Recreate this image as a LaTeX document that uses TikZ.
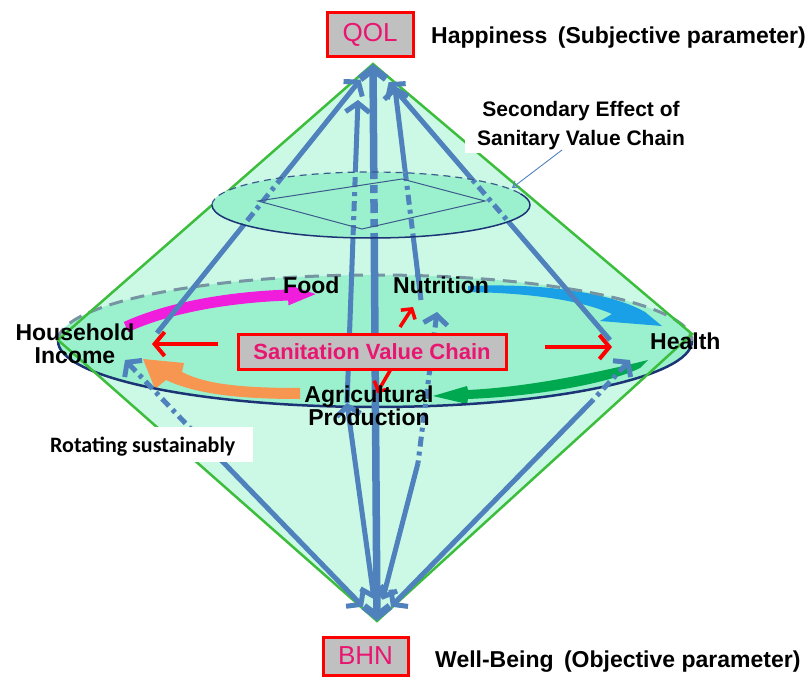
\documentclass[tikz,border=0pt]{standalone}
\usepackage{fontspec}
\setmainfont{Liberation Sans}
\newfontfamily\carlito{Carlito}
\usetikzlibrary{arrows.meta}
\definecolor{qblue}{RGB}{79,129,189}
\definecolor{conefill}{RGB}{204,249,230}
\definecolor{ellfill}{RGB}{155,241,206}
\definecolor{diagreen}{RGB}{60,190,60}
\definecolor{navyline}{RGB}{28,52,118}
\definecolor{dashgray}{RGB}{118,148,162}
\definecolor{pinktext}{RGB}{232,22,112}
\definecolor{boxgray}{RGB}{192,192,192}
\definecolor{arrmag}{RGB}{240,30,220}
\definecolor{arrcyan}{RGB}{25,160,230}
\definecolor{arrgreen}{RGB}{0,168,80}
\definecolor{arrorange}{RGB}{246,150,80}
\definecolor{quadline}{RGB}{60,90,140}
\tikzset{
  bl/.style={draw=qblue, line width=5pt, >={Straight Barb[length=9pt,width=24pt]}},
  blthick/.style={draw=qblue, line width=7.5pt, >={Straight Barb[length=10pt,width=26pt]}},
  dd/.style={dash pattern=on 10pt off 5pt on 4pt off 5pt},
  redarr/.style={draw=red, line width=4pt, ->, >={Straight Barb[length=10pt,width=24pt]}},
  redsmall/.style={draw=red, line width=3.5pt, ->, >={Straight Barb[length=7pt,width=17pt]}},
  lbl/.style={font=\fontsize{23}{26}\selectfont\bfseries, inner sep=0pt},
  sec/.style={font=\fontsize{21}{24}\selectfont\bfseries, inner sep=0pt},
  tagbox/.style={draw=red, line width=3pt, fill=boxgray, text=pinktext, inner sep=0pt,
     font=\fontsize{26}{28}\selectfont},
  svcbox/.style={draw=red, line width=3pt, fill=boxgray, text=pinktext, inner sep=0pt,
     font=\fontsize{22}{24}\selectfont\bfseries, minimum width=268pt, minimum height=35pt},
}
\begin{document}
\begin{tikzpicture}[x=1pt,y=-1pt]
\useasboundingbox (0,0) rectangle (806,677);
% key points
\coordinate (T) at (373,64);
\coordinate (B) at (377,621);
\coordinate (L) at (58,340);
\coordinate (R) at (692,334);
\coordinate (C1) at (375,341);
\coordinate (C2) at (371,205);
\coordinate (hiT) at (157,333);
\coordinate (hiB) at (125,360);
\coordinate (hiM) at (190,428);
\coordinate (ag) at (347,403);
\coordinate (agQ) at (359,72);
\coordinate (nuT) at (421,300);
\coordinate (nuQ) at (392,64);
\coordinate (nuB) at (437,312);
\coordinate (nuM) at (418,463);
\coordinate (heT) at (610,340);
\coordinate (heB) at (630,360);
\coordinate (heM) at (593,400);
\coordinate (q1) at (258,201);
\coordinate (q2) at (402,179);
\coordinate (q3) at (485,201);
\coordinate (q4) at (362,229);
% cone fill
\fill[conefill] (T) -- (R) -- (B) -- (L) -- cycle;
\fill[ellfill] (C1) ellipse [x radius=317, y radius=66];
% coloured cycle arrows
\draw[arrmag, line width=11pt, -{Triangle[length=30pt,width=18pt]}]
  (126,327) .. controls (170,307) and (230,297) .. (318,294);
\fill[arrcyan] (468,286) .. controls (540,283) and (610,292) .. (645,312) -- (662,326)
  -- (600,321) -- (612,314) .. controls (580,300) and (530,293) .. (468,292) -- cycle;
\fill[arrgreen] (648,360) .. controls (600,372) and (530,387) .. (468,390) -- (467,386)
  -- (433,396) -- (467,404) -- (468,399) .. controls (540,396) and (610,383) .. (640,368) -- cycle;
\fill[arrorange] (300,388) .. controls (240,388) and (205,384) .. (182,372) -- (184,363)
  -- (143,359) -- (155,389) -- (166,380) .. controls (200,396) and (250,399) .. (300,399) -- cycle;
% big ellipse outline
\draw[navyline, line width=2.5pt] (C1) ++(317,0) arc[start angle=0, end angle=180, x radius=317, y radius=66];
\draw[dashgray, line width=3pt, dash pattern=on 14pt off 8pt] (C1) ++(-317,0) arc[start angle=180, end angle=360, x radius=317, y radius=66];
% diamond outline
\draw[diagreen, line width=2.5pt, line join=miter] (T) -- (R) -- (B) -- (L) -- cycle;
% blue connectors to QOL
\draw[bl,->,shorten >=20pt] (hiT) -- (T);
\draw[bl,->,shorten >=28pt] (ag) -- (agQ);
\draw[bl,->,shorten >=22pt] (nuT) -- (nuQ);
\draw[bl,->,shorten >=24pt] (heT) -- (T);
\draw[blthick,<->] (T) -- (B);
% blue connectors to BHN
\draw[bl,dd,<-] (hiB) -- (hiM);
\draw[bl,->,shorten >=20pt] (hiM) -- (B);
\draw[bl,<->,shorten >=22pt] (ag) -- (B);
\draw[bl,dd,<-] (nuB) -- (nuM);
\draw[bl,->,shorten >=22pt] (nuM) -- (B);
\draw[bl,dd,<-] (heB) -- (heM);
\draw[bl,->,shorten >=20pt] (heM) -- (B);
% small ellipse
\fill[ellfill] (C2) ellipse [x radius=159, y radius=33];
\begin{scope}
  \clip (C2) ellipse [x radius=159, y radius=33];
  \draw[bl,dd] (hiT) -- (T);
  \draw[bl,dd] (ag) -- (agQ);
  \draw[bl,dd] (nuT) -- (nuQ);
  \draw[bl,dd] (heT) -- (T);
  \draw[blthick,dash pattern=on 14pt off 6pt on 8pt off 6pt] (B) -- (T);
\end{scope}
\draw[quadline, line width=1pt] (q1) -- (q2) -- (q3) -- (q4) -- cycle;
\draw[navyline, line width=1.5pt] (C2) ++(159,0) arc[start angle=0, end angle=180, x radius=159, y radius=33];
\draw[navyline, line width=1.5pt] (C2) ++(159,0) arc[start angle=360, end angle=340, x radius=159, y radius=33];
\draw[quadline, line width=1.2pt, dash pattern=on 7pt off 5pt] (C2) ++(-159,0) arc[start angle=180, end angle=340, x radius=159, y radius=33];
% white label boxes
\node[fill=white, inner sep=0pt, minimum width=232pt, minimum height=65pt] (secbox) at (581,120.5) {};
\node[fill=white, inner sep=0pt, minimum width=213pt, minimum height=35pt] (rotbox) at (146.5,444.5) {};
% pointer of the secondary effect
\coordinate (secP) at (562,150);
\coordinate (secE) at (512,188);
\draw[qblue, line width=0.9pt, -{Straight Barb[length=6pt,width=8pt]}] (secP) -- (secE);
% sanitation value chain box and red arrows
\node[svcbox] (svc) at (372,351.5) {Sanitation Value Chain};
\coordinate (rL1) at (218,344); \coordinate (rL2) at (152,344);
\coordinate (rR1) at (545,347); \coordinate (rR2) at (612,347);
\coordinate (rU1) at (400,327); \coordinate (rU2) at (413,307);
\coordinate (rD1) at (391,369); \coordinate (rD2) at (377,393);
\draw[redarr] (rL1) -- (rL2);
\draw[redarr] (rR1) -- (rR2);
\draw[redsmall] (rU1) -- (rU2);
\draw[redsmall] (rD1) -- (rD2);
% element labels
\node[lbl, anchor=base] (hh1) at (75,340) {Household};
\node[lbl, anchor=base] (hh2) at (75,363) {Income};
\node[lbl, anchor=base west] (food) at (283,293) {Food};
\node[lbl, anchor=base west] (nutr) at (393,293) {Nutrition};
\node[lbl, anchor=base west] (hlth) at (650,349) {Health};
\node[lbl, anchor=base] (ag1) at (369,402) {Agricultural};
\node[lbl, anchor=base] (ag2) at (369,425) {Production};
\node[sec, anchor=base] (sec1) at (581,117) {Secondary Effect of};
\node[sec, anchor=base] (sec2) at (581,145) {Sanitary Value Chain};
\node[anchor=base west, inner sep=0pt, font={\carlito\bfseries\fontsize{22}{24}\selectfont}] (rot) at (50,452) {Rotating sustainably};
% QOL and BHN
\node[tagbox, minimum width=86pt, minimum height=44pt] (qol) at (370,35) {QOL};
\node[lbl, anchor=base west] (hap) at (431,44) {Happiness\hspace{4pt} (Subjective parameter)};
\node[tagbox, minimum width=85pt, minimum height=38pt] (bhn) at (365.5,656) {BHN};
\node[lbl, anchor=base west] (wb) at (435,667) {Well-Being\hspace{4pt} (Objective parameter)};
\end{tikzpicture}
\end{document}
